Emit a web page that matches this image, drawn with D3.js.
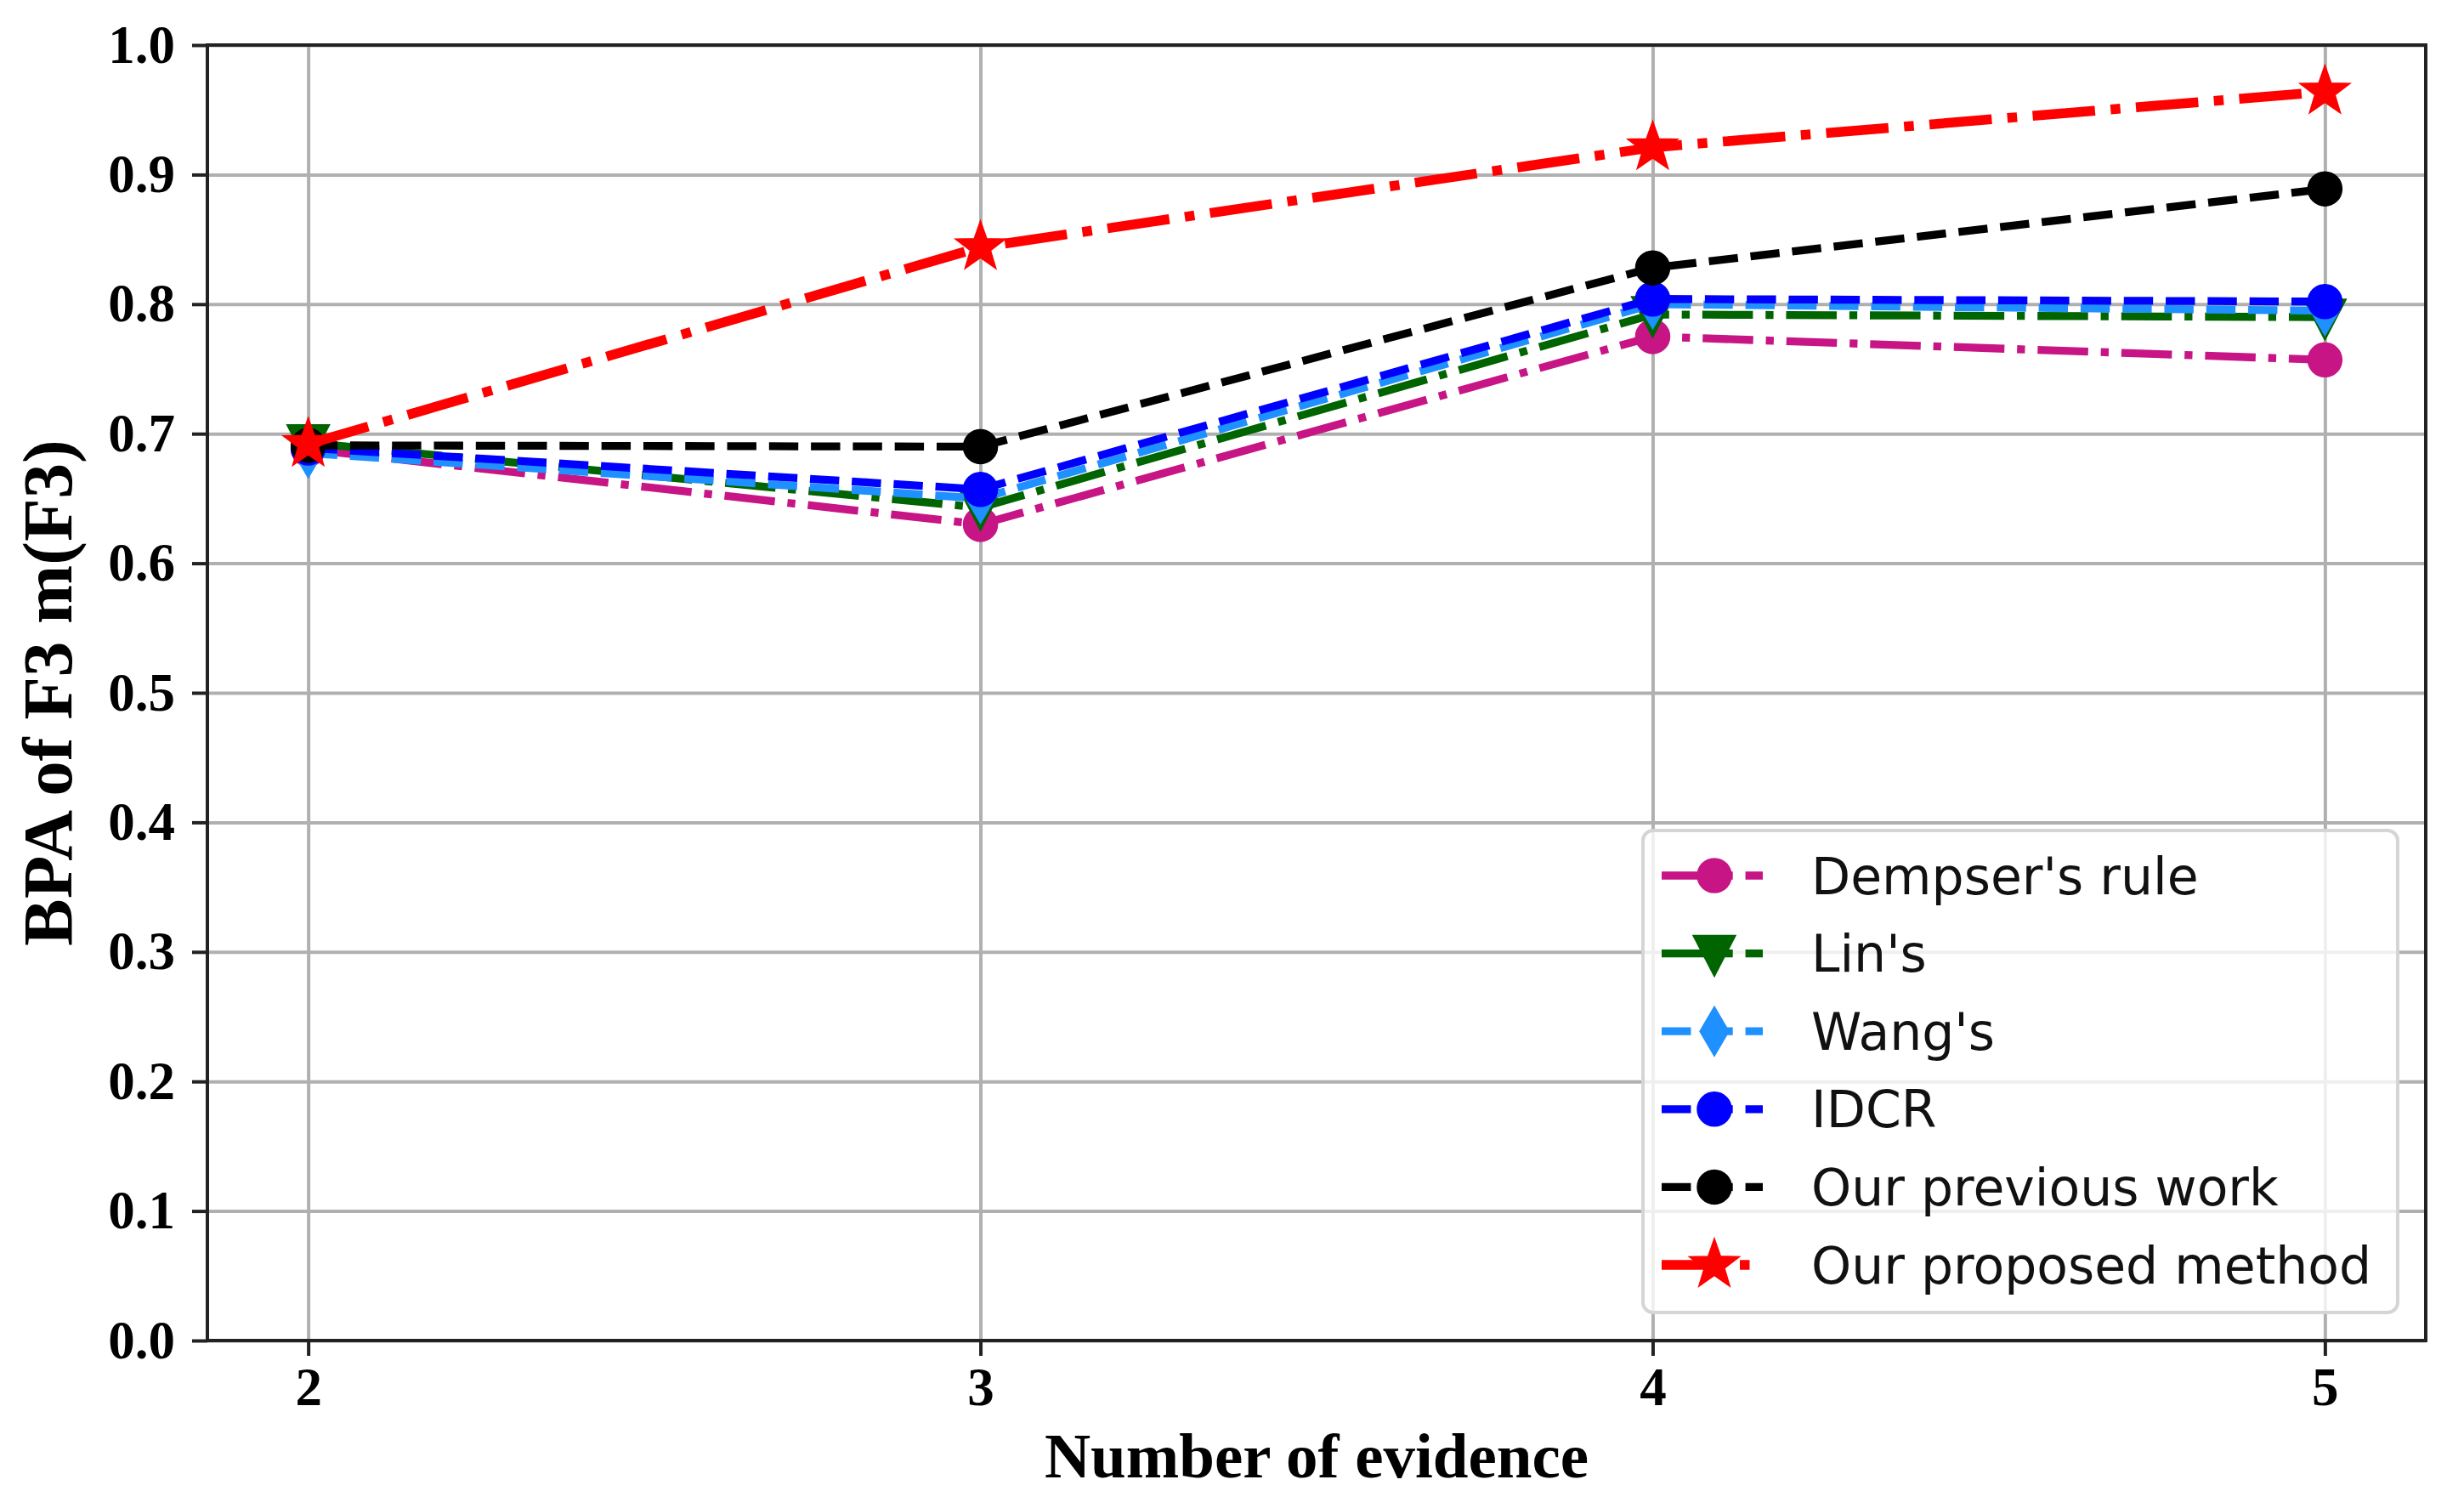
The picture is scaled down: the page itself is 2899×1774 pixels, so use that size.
<!DOCTYPE html>
<html>
<head>
<meta charset="utf-8">
<script src="https://cdn.jsdelivr.net/npm/d3@7"></script>
<style>
  body { margin: 0; background: #fff; }
  svg { display: block; }
</style>
</head>
<body>
<div id="chart"></div>
<script>
// values
const evidence = [2, 3, 4, 5];
const yTicks = [0, 0.1, 0.2, 0.3, 0.4, 0.5, 0.6, 0.7, 0.8, 0.9, 1.0];
const seriesNames = ["Dempser's rule", "Lin's", "Wang's", "IDCR", "Our previous work", "Our proposed method"];
const dempster = [0.688, 0.630, 0.775, 0.757];
const lin = [0.693, 0.643, 0.792, 0.790];
const wang = [0.685, 0.650, 0.800, 0.795];
const idcr = [0.689, 0.657, 0.804, 0.802];
const previous = [0.691, 0.690, 0.828, 0.889];
const proposed = [0.692, 0.844, 0.921, 0.964];

const width = 2899, height = 1774;
const margin = { top: 53, right: 45, bottom: 197, left: 244 };
const innerW = width - margin.left - margin.right;
const innerH = height - margin.top - margin.bottom;

const lw = 9.3, lwRed = 11.5;
const dashed = w => [3.7 * w, 1.6 * w].join(",");
const dashdot = w => [6.4 * w, 1.6 * w, 1 * w, 1.6 * w].join(",");

const styles = [
  { values: dempster, color: "#C71585", dash: dashdot(lw), width: lw, marker: "circle" },
  { values: lin, color: "#006400", dash: dashdot(lw), width: lw, marker: "tri_down" },
  { values: wang, color: "#1E90FF", dash: dashed(lw), width: lw, marker: "thin_diamond" },
  { values: idcr, color: "#0000FF", dash: dashed(lw), width: lw, marker: "circle" },
  { values: previous, color: "#000000", dash: dashed(lw), width: lw, marker: "circle" },
  { values: proposed, color: "#FF0000", dash: dashdot(lwRed), width: lwRed, marker: "star" }
];

// marker outlines centred on 0,0
function markerPath(type) {
  const p = d3.path();
  if (type === "circle") {
    p.arc(0, 0, 20, 0, 2 * Math.PI);
  } else if (type === "tri_down") {
    p.moveTo(-25, -21); p.lineTo(25, -21); p.lineTo(0, 27); p.closePath();
  } else if (type === "thin_diamond") {
    p.moveTo(0, -29); p.lineTo(17, 0); p.lineTo(0, 29); p.lineTo(-17, 0); p.closePath();
  } else if (type === "star") {
    const R = 31, r = 12.5;
    for (let i = 0; i < 10; i++) {
      const a = -Math.PI / 2 + i * Math.PI / 5;
      const rad = i % 2 === 0 ? R : r;
      if (i === 0) p.moveTo(rad * Math.cos(a), rad * Math.sin(a));
      else p.lineTo(rad * Math.cos(a), rad * Math.sin(a));
    }
    p.closePath();
  }
  return p.toString();
}

const svg = d3.select("#chart").append("svg")
  .attr("width", width)
  .attr("height", height);

const g = svg.append("g")
  .attr("transform", "translate(" + margin.left + "," + margin.top + ")");

const x = d3.scaleLinear().domain([1.85, 5.15]).range([0, innerW]);
const y = d3.scaleLinear().domain([0, 1]).range([innerH, 0]);

// grid
g.append("g")
  .attr("class", "grid")
  .attr("transform", "translate(0," + innerH + ")")
  .call(d3.axisBottom(x).tickValues(evidence).tickSize(-innerH).tickFormat(""))
  .call(s => s.select(".domain").remove())
  .selectAll("line").attr("stroke", "#b0b0b0").attr("stroke-width", 4);

g.append("g")
  .attr("class", "grid")
  .call(d3.axisLeft(y).tickValues(yTicks).tickSize(-innerW).tickFormat(""))
  .call(s => s.select(".domain").remove())
  .selectAll("line").attr("stroke", "#b0b0b0").attr("stroke-width", 4);

// axes
const xAxis = g.append("g")
  .attr("transform", "translate(0," + innerH + ")")
  .call(d3.axisBottom(x).tickValues(evidence).tickFormat(d3.format("d")).tickSize(18).tickPadding(13));

const yAxis = g.append("g")
  .call(d3.axisLeft(y).tickValues(yTicks).tickFormat(d3.format(".1f")).tickSize(18).tickPadding(20));

[xAxis, yAxis].forEach(a => {
  a.select(".domain").remove();
  a.selectAll("line").attr("stroke", "#222").attr("stroke-width", 4);
  a.selectAll("text")
    .attr("fill", "#000")
    .style("font-family", "'Liberation Serif', 'Times New Roman', serif")
    .style("font-weight", "bold")
    .style("font-size", "63px");
});

// series
styles.forEach(s => {
  const pts = evidence.map((e, i) => [e, s.values[i]]);
  g.append("path")
    .datum(pts)
    .attr("fill", "none")
    .attr("stroke", s.color)
    .attr("stroke-width", s.width)
    .attr("stroke-dasharray", s.dash)
    .attr("d", d3.line().x(d => x(d[0])).y(d => y(d[1])));

  g.selectAll(null)
    .data(pts)
    .enter().append("path")
    .attr("transform", d => "translate(" + x(d[0]) + "," + y(d[1]) + ")")
    .attr("d", markerPath(s.marker))
    .attr("fill", s.color)
    .attr("stroke", s.color)
    .attr("stroke-width", 1.5);
});

// spines
g.append("rect")
  .attr("width", innerW)
  .attr("height", innerH)
  .attr("fill", "none")
  .attr("stroke", "#222")
  .attr("stroke-width", 4);

// legend
const legW = 888, legH = 567, legPad = 33;
const legend = g.append("g")
  .attr("transform", "translate(" + (innerW - legPad - legW) + "," + (innerH - legPad - legH) + ")");

legend.append("rect")
  .attr("width", legW)
  .attr("height", legH)
  .attr("rx", 12)
  .attr("fill", "#fff")
  .attr("fill-opacity", 0.8)
  .attr("stroke", "#d5d5d5")
  .attr("stroke-width", 4);

const rowStep = 91.6;
styles.forEach((s, i) => {
  const cy = 53 + i * rowStep;
  const row = legend.append("g").attr("transform", "translate(0," + cy + ")");
  row.append("line")
    .attr("x1", 22).attr("x2", 141)
    .attr("stroke", s.color)
    .attr("stroke-width", s.width)
    .attr("stroke-dasharray", s.dash);
  row.append("path")
    .attr("transform", "translate(84,0)")
    .attr("d", markerPath(s.marker))
    .attr("fill", s.color)
    .attr("stroke", s.color)
    .attr("stroke-width", 1.5);
  row.append("text")
    .attr("x", 198)
    .attr("dy", "0.36em")
    .style("font-family", "'DejaVu Sans', sans-serif")
    .style("font-size", "60px")
    .attr("fill", "#111")
    .text(seriesNames[i]);
});

// axis labels
svg.append("text")
  .attr("x", margin.left + innerW / 2)
  .attr("y", 1738)
  .attr("text-anchor", "middle")
  .style("font-family", "'Liberation Serif', 'Times New Roman', serif")
  .style("font-weight", "bold")
  .style("font-size", "75px")
  .text("Number of evidence");

svg.append("text")
  .attr("transform", "translate(84," + (margin.top + innerH / 2) + ") rotate(-90)")
  .attr("text-anchor", "middle")
  .style("font-family", "'Liberation Serif', 'Times New Roman', serif")
  .style("font-weight", "bold")
  .style("font-size", "83px")
  .text("BPA of F3 m(F3)");
</script>
</body>
</html>
